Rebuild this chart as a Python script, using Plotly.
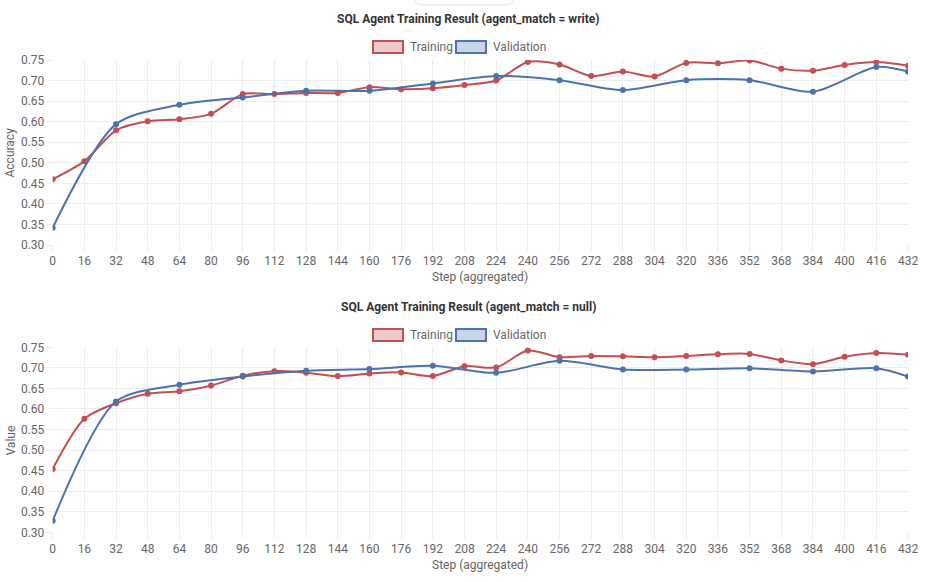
import plotly.graph_objects as go

# ---------------- data ----------------
steps_train = list(range(0, 433, 16))
steps_val = [0, 32, 64, 96, 128, 160, 192, 224, 256, 288, 320, 352, 384, 416, 432]

write_train = [0.460, 0.504, 0.579, 0.601, 0.606, 0.619, 0.667, 0.667, 0.670, 0.670,
               0.684, 0.679, 0.681, 0.689, 0.700, 0.745, 0.739, 0.711, 0.722, 0.710,
               0.743, 0.742, 0.749, 0.729, 0.724, 0.738, 0.745, 0.736]
write_val = [0.342, 0.594, 0.641, 0.659, 0.675, 0.675, 0.693, 0.711, 0.701, 0.677,
             0.701, 0.701, 0.673, 0.733, 0.722]

null_train = [0.454, 0.576, 0.614, 0.637, 0.643, 0.657, 0.681, 0.692, 0.688, 0.680,
              0.686, 0.689, 0.680, 0.704, 0.701, 0.742, 0.726, 0.729, 0.728, 0.726,
              0.729, 0.733, 0.734, 0.718, 0.709, 0.727, 0.736, 0.732]
null_val = [0.328, 0.618, 0.659, 0.679, 0.693, 0.697, 0.705, 0.688, 0.717, 0.696,
            0.696, 0.699, 0.691, 0.699, 0.679]

titles = ["SQL Agent Training Result (agent_match = write)",
          "SQL Agent Training Result (agent_match = null)"]
y_titles = ["Accuracy", "Value"]
series_names = ["Training", "Validation"]
x_tick_vals = list(range(0, 433, 16))
y_tick_vals = [0.30, 0.35, 0.40, 0.45, 0.50, 0.55, 0.60, 0.65, 0.70, 0.75]

# ---------------- style ----------------
RED = "#c44e52"
BLUE = "#4c72b0"
RED_FILL = "rgba(196,78,82,0.3)"
BLUE_FILL = "rgba(76,114,176,0.3)"
FONT = "Roboto"
W, H = 936, 582

def px_x(p):
    return p / W

def px_y(p):
    return 1 - p / H

fig = go.Figure()

panels = [
    dict(train=write_train, val=write_val, xa="x", ya="y", top=60, bottom=245, off=0),
    dict(train=null_train, val=null_val, xa="x2", ya="y2", top=347.3, bottom=532.3, off=288),
]

for i, p in enumerate(panels):
    fig.add_trace(go.Scatter(
        x=steps_train, y=p["train"], name=series_names[0], mode="lines+markers",
        line=dict(color=RED, width=2, shape="spline", smoothing=0.8),
        marker=dict(color=RED, size=6), xaxis=p["xa"], yaxis=p["ya"], showlegend=False))
    fig.add_trace(go.Scatter(
        x=steps_val, y=p["val"], name=series_names[1], mode="lines+markers",
        line=dict(color=BLUE, width=2, shape="spline", smoothing=0.8),
        marker=dict(color=BLUE, size=6), xaxis=p["xa"], yaxis=p["ya"], showlegend=False))

axis_common = dict(showgrid=True, gridcolor="#ececec", gridwidth=1, zeroline=False,
                   showline=False, ticks="outside", ticklen=5, tickcolor="#ececec",
                   automargin=False,
                   tickfont=dict(family=FONT, size=12, color="#666666"))

layout = dict(
    width=W, height=H, margin=dict(l=0, r=0, t=0, b=0, pad=0),
    paper_bgcolor="white", plot_bgcolor="white",
    hovermode="closest", showlegend=False,
)

x_dom = [px_x(52.7), px_x(908)]
shapes = []
annotations = []
for i, p in enumerate(panels):
    sfx = "" if i == 0 else "2"
    off = p["off"]
    layout["xaxis" + sfx] = dict(
        axis_common, domain=x_dom, range=[0, 432], tickvals=x_tick_vals,
        anchor="y" + sfx, title=dict(text=""))
    layout["yaxis" + sfx] = dict(
        axis_common, domain=[px_y(p["bottom"]), px_y(p["top"])], range=[0.30, 0.75],
        tickvals=y_tick_vals, tickformat=".2f", anchor="x" + sfx, title=dict(text=""))
    # axis titles
    annotations.append(dict(
        text="Step (aggregated)", xref="paper", yref="paper",
        x=px_x(480), y=px_y(277 + off), xanchor="center", yanchor="middle",
        showarrow=False, font=dict(family=FONT, size=12, color="#666666")))
    annotations.append(dict(
        text=y_titles[i], xref="paper", yref="paper", textangle=-90,
        x=px_x(10), y=px_y(152.5 + off), xanchor="center", yanchor="middle",
        showarrow=False, font=dict(family=FONT, size=12, color="#666666")))
    # title
    annotations.append(dict(
        text="<b>" + titles[i] + "</b>", xref="paper", yref="paper",
        x=px_x(468), y=px_y(19 + off), xanchor="center", yanchor="middle",
        showarrow=False, font=dict(family=FONT, size=12, color="#333333")))
    # legend boxes + labels
    for (x0, x1, tx, label, col, fill) in [
        (373, 403, 408, series_names[0], RED, RED_FILL),
        (456, 486, 491, series_names[1], BLUE, BLUE_FILL),
    ]:
        shapes.append(dict(type="rect", xref="paper", yref="paper",
                           x0=px_x(x0), x1=px_x(x1), y0=px_y(41 + off), y1=px_y(53 + off),
                           line=dict(color=col, width=2), fillcolor=fill))
        annotations.append(dict(
            text=label, xref="paper", yref="paper", x=px_x(tx), y=px_y(47 + off),
            xanchor="left", yanchor="middle", showarrow=False,
            font=dict(family=FONT, size=12, color="#666666")))

# faint rounded box fragment at the very top (tooltip remnant in the screenshot)
shapes.append(dict(type="path", xref="paper", yref="paper",
                   path=f"M {px_x(414)},{px_y(-2)} L {px_x(414)},{px_y(0)} "
                        f"Q {px_x(416)},{px_y(5)} {px_x(424)},{px_y(5)} "
                        f"L {px_x(504)},{px_y(5)} Q {px_x(512)},{px_y(5)} {px_x(514)},{px_y(0)} "
                        f"L {px_x(514)},{px_y(-2)} Z",
                   line=dict(color="#e4e4e4", width=1), fillcolor="white"))

layout["shapes"] = shapes
layout["annotations"] = annotations
fig.update_layout(**layout)

fig.write_html(
    "out.html",
    config={"displayModeBar": False},
    post_script="document.body.style.margin='0';document.body.style.padding='0';"
                "document.body.style.overflow='hidden';",
)
